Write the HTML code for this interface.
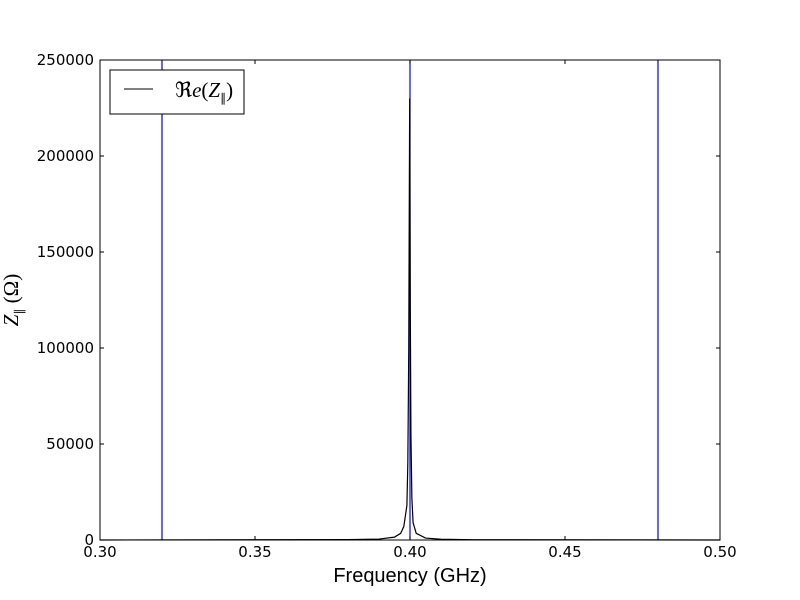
<!DOCTYPE html>
<html><head><meta charset="utf-8"><style>
html,body{margin:0;padding:0;background:#fff;}
svg{display:block;font-family:"Liberation Sans","DejaVu Sans",sans-serif;}
</style></head><body>
<svg id="chart" width="800" height="600">
<rect width="800" height="600" fill="#fff"/>
<g id="marks"></g>
<rect x="100" y="60" width="620" height="480" fill="none" stroke="#000" stroke-width="1"/>
<g id="ticks"></g>
<text x="410" y="582" font-size="20" text-anchor="middle">Frequency (GHz)</text>
<text transform="translate(18,300) rotate(-90)" font-size="21" text-anchor="middle" font-family="Liberation Serif,serif"><tspan font-style="italic">Z</tspan><tspan font-size="12" dy="5">∥</tspan><tspan dy="-5"> (Ω)</tspan></text>
<g>
<rect x="110" y="70" width="134" height="44" fill="#fff" stroke="#000" stroke-width="1"/>
<line x1="124" y1="89" x2="153" y2="89" stroke="#000" stroke-width="1"/>
<text x="175" y="97" font-size="21" font-family="Liberation Serif,serif">ℜ<tspan font-style="italic">e</tspan>(<tspan font-style="italic">Z</tspan><tspan font-size="12" dy="5">∥</tspan><tspan dy="-5">)</tspan></text>
</g>
</svg>
<script>
const freqs=[0.30,0.38,0.39,0.395,0.397,0.398,0.399,0.3993,0.3996,0.3998,0.3999,0.4001,0.4003,0.4006,0.401,0.402,0.405,0.41,0.42,0.50];
const zre=[0,200,500,1500,3500,7000,18000,40000,100000,190000,230000,120000,55000,22000,9000,3500,1000,400,150,0];
const vlines=[0.32,0.40,0.48];
const xTicks=[0.30,0.35,0.40,0.45,0.50];
const xTickLabels=["0.30","0.35","0.40","0.45","0.50"];
const yTicks=[0,50000,100000,150000,200000,250000];
const yTickLabels=["0","50000","100000","150000","200000","250000"];
const NS="http://www.w3.org/2000/svg";
const X=v=>100+(v-0.30)/0.20*620;
const Y=v=>540-v/250000*480;
const marks=document.getElementById('marks');
vlines.forEach(v=>{
 const l=document.createElementNS(NS,'line');
 l.setAttribute('x1',X(v));l.setAttribute('x2',X(v));l.setAttribute('y1',60);l.setAttribute('y2',540);
 l.setAttribute('stroke','#0000ff');l.setAttribute('stroke-width','1.2');
 
 
 marks.appendChild(l);
});
const p=document.createElementNS(NS,'path');
p.setAttribute('d',freqs.map((f,i)=>(i?'L':'M')+X(f).toFixed(2)+','+Y(zre[i]).toFixed(2)).join(''));
p.setAttribute('fill','none');p.setAttribute('stroke','#000');p.setAttribute('stroke-width','1.2');


marks.appendChild(p);
const t=document.getElementById('ticks');
xTicks.forEach((v,i)=>{
 [[540,536],[60,64]].forEach(([a,b])=>{const l=document.createElementNS(NS,'line');l.setAttribute('x1',X(v));l.setAttribute('x2',X(v));l.setAttribute('y1',a);l.setAttribute('y2',b);l.setAttribute('stroke','#000');
 
 
 t.appendChild(l);});
 const s=document.createElementNS(NS,'text');s.setAttribute('x',X(v));s.setAttribute('y',557);s.setAttribute('font-size','15');s.setAttribute('font-family','DejaVu Sans,sans-serif');s.setAttribute('text-anchor','middle');s.textContent=xTickLabels[i];
 
 
 t.appendChild(s);
});
yTicks.forEach((v,i)=>{
 [[100,104],[720,716]].forEach(([a,b])=>{const l=document.createElementNS(NS,'line');l.setAttribute('x1',a);l.setAttribute('x2',b);l.setAttribute('y1',Y(v));l.setAttribute('y2',Y(v));l.setAttribute('stroke','#000');
 
 
 t.appendChild(l);});
 const s=document.createElementNS(NS,'text');s.setAttribute('x',94);s.setAttribute('y',Y(v)+5);s.setAttribute('font-size','15');s.setAttribute('font-family','DejaVu Sans,sans-serif');s.setAttribute('text-anchor','end');s.textContent=yTickLabels[i];
 
 
 t.appendChild(s);
});
</script>
</body></html>
